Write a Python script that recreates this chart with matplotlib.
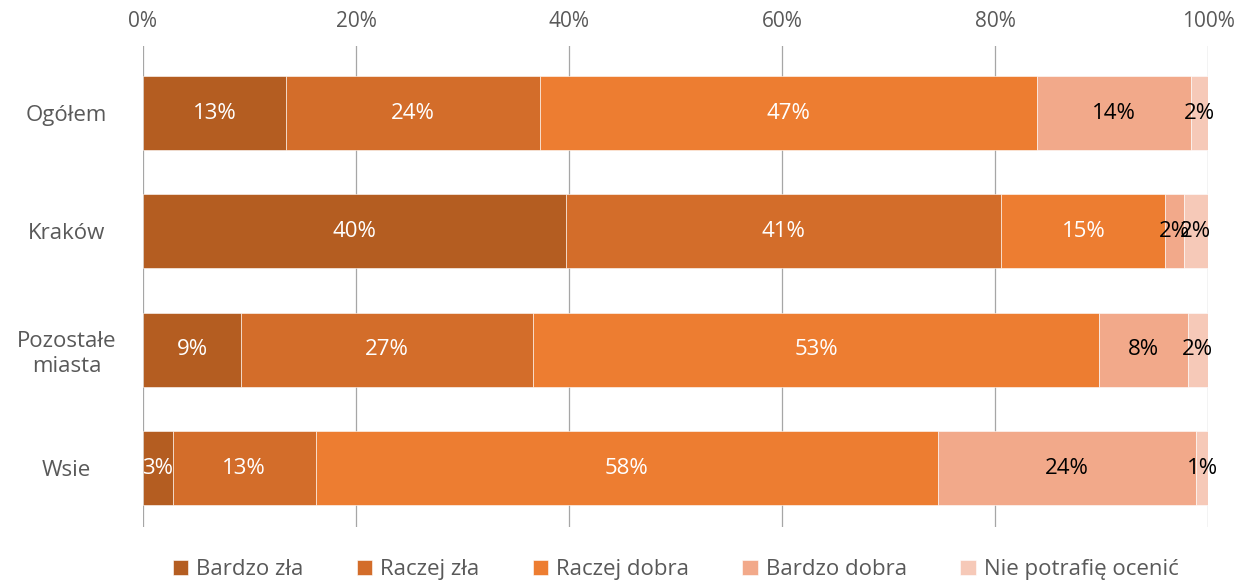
import numpy as np
import matplotlib.pyplot as plt

categories = ["Ogółem", "Kraków", "Pozostałe\nmiasta", "Wsie"]
series = ["Bardzo zła", "Raczej zła", "Raczej dobra", "Bardzo dobra", "Nie potrafię ocenić"]
bardzo_zla = [13.4, 39.7, 9.2, 2.8]
raczej_zla = [23.9, 40.9, 27.4, 13.4]
raczej_dobra = [46.6, 15.4, 53.2, 58.4]
bardzo_dobra = [14.5, 1.7, 8.3, 24.3]
nie_wiem = [1.6, 2.3, 1.9, 1.1]
labels = [
    ["13%", "40%", "9%", "3%"],
    ["24%", "41%", "27%", "13%"],
    ["47%", "15%", "53%", "58%"],
    ["14%", "2%", "8%", "24%"],
    ["2%", "2%", "2%", "1%"],
]

colors = ["#B45D21", "#D36D2A", "#ED7D31", "#F2A98A", "#F6C9B8"]
text_colors = ["white", "white", "white", "black", "black"]

plt.rcParams["font.family"] = ["Open Sans", "DejaVu Sans"]

fig = plt.figure(figsize=(12.38, 5.83), dpi=100)
ax = fig.add_axes([0.1155, 0.096, 0.8603, 0.825])

values = [bardzo_zla, raczej_zla, raczej_dobra, bardzo_dobra, nie_wiem]
y = np.arange(len(categories))
left = np.zeros(len(categories))
for i, vals in enumerate(values):
    vals = np.array(vals)
    ax.barh(y, vals, left=left, height=0.625, color=colors[i],
            edgecolor="white", linewidth=0.4, label=series[i], zorder=3)
    for j in range(len(categories)):
        ax.text(left[j] + vals[j] / 2, y[j], labels[i][j], ha="center", va="center",
                color=text_colors[i], fontsize=16, zorder=4)
    left += vals

ax.set_xlim(0, 100)
ax.set_ylim(3.497, -0.566)
ax.set_xticks(np.arange(0, 101, 20))
ax.set_xticklabels([f"{t}%" for t in range(0, 101, 20)])
ax.xaxis.tick_top()
ax.set_yticks(y)
ax.set_yticklabels(categories, ha="center")
ax.tick_params(axis="x", length=0, labelsize=15, labelcolor="#595959", pad=10)
ax.tick_params(axis="y", length=0, labelsize=16, labelcolor="#595959", pad=55)
ax.grid(axis="x", color="#A6A6A6", linewidth=0.9, zorder=0)
for s in ax.spines.values():
    s.set_visible(False)

ax.legend(loc="upper center", bbox_to_anchor=(0.5, -0.025), ncol=5, frameon=False,
          fontsize=16, handlelength=0.7, handleheight=0.7, handletextpad=0.35,
          columnspacing=2.4, labelcolor="#595959")

fig.savefig("out.png", dpi=100)
